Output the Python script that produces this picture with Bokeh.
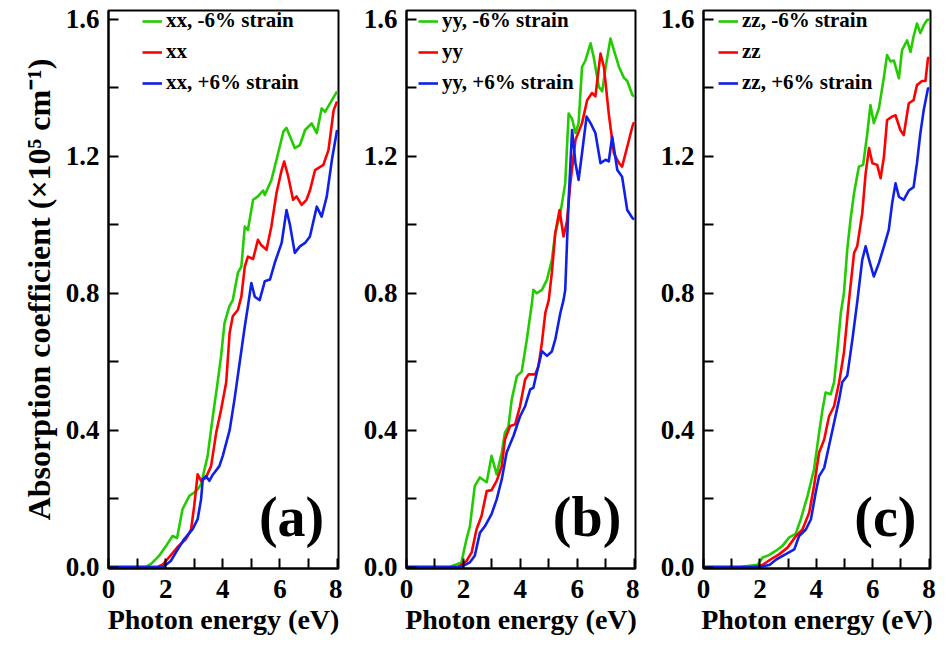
from bokeh.plotting import figure
from bokeh.layouts import row
from bokeh.models import (Range1d, FixedTicker, PrintfTickFormatter, Legend, LegendItem, Label)
from bokeh.embed import file_html
from bokeh.resources import INLINE

# ---------------- data (photon energy in eV, absorption in 1e5 cm^-1) ----------------
a_green_E = [0, 1.3, 1.5, 1.76, 2.0, 2.24, 2.4, 2.59, 2.83, 3.0, 3.1, 3.24, 3.47, 3.65, 3.82, 3.94, 4.06, 4.23, 4.35, 4.53,
             4.65, 4.77, 4.88, 5.06, 5.23, 5.41, 5.47, 5.7, 5.88, 6.12, 6.23, 6.52, 6.7, 6.88, 7.11, 7.29, 7.46, 7.58, 7.82, 8.0]
a_green = [0, 0, 0.01, 0.032, 0.06, 0.091, 0.085, 0.169, 0.208, 0.218, 0.225, 0.242, 0.325, 0.44, 0.54, 0.616, 0.713, 0.762, 0.78, 0.86,
           0.878, 0.995, 0.985, 1.073, 1.083, 1.10, 1.087, 1.13, 1.19, 1.272, 1.283, 1.224, 1.233, 1.277, 1.296, 1.268, 1.34, 1.33, 1.364, 1.39]
a_red_E = [0, 1.7, 1.9, 2.06, 2.41, 2.71, 2.89, 3.0, 3.12, 3.24, 3.4, 3.59, 3.77, 3.94, 4.12, 4.24, 4.35, 4.53, 4.65, 4.77,
           4.88, 5.06, 5.23, 5.35, 5.53, 5.7, 5.88, 6.06, 6.15, 6.29, 6.46, 6.58, 6.76, 6.93, 7.05, 7.23, 7.52, 7.7, 7.88, 8.0]
a_red = [0, 0, 0.008, 0.023, 0.058, 0.082, 0.11, 0.179, 0.271, 0.252, 0.26, 0.295, 0.393, 0.46, 0.54, 0.685, 0.733, 0.752, 0.79, 0.878,
         0.907, 0.90, 0.956, 0.94, 0.927, 0.995, 1.093, 1.16, 1.185, 1.141, 1.073, 1.083, 1.058, 1.073, 1.10, 1.16, 1.175, 1.219, 1.335, 1.36]
a_blue_E = [0, 1.9, 2.18, 2.36, 2.65, 2.94, 3.12, 3.24, 3.3, 3.41, 3.53, 3.65, 3.88, 4.0, 4.24, 4.41, 4.59, 4.77, 4.88, 5.0,
            5.12, 5.29, 5.47, 5.65, 5.82, 6.06, 6.23, 6.35, 6.52, 6.7, 6.88, 7.05, 7.29, 7.46, 7.64, 7.82, 8.0]
a_blue = [0, 0, 0.018, 0.043, 0.082, 0.11, 0.14, 0.198, 0.257, 0.266, 0.252, 0.27, 0.295, 0.325, 0.40, 0.49, 0.597, 0.703, 0.762, 0.83,
          0.79, 0.78, 0.835, 0.84, 0.889, 0.947, 1.043, 1.0, 0.918, 0.937, 0.947, 0.966, 1.053, 1.024, 1.083, 1.19, 1.277]

b_green_E = [0, 1.5, 1.93, 2.11, 2.23, 2.4, 2.58, 2.82, 2.99, 3.17, 3.35, 3.46, 3.58, 3.7, 3.88, 4.05, 4.23, 4.41, 4.46, 4.58,
             4.76, 4.94, 5.11, 5.23, 5.41, 5.58, 5.7, 5.82, 5.94, 6.05, 6.17, 6.29, 6.47, 6.58, 6.76, 6.88, 7.0, 7.17, 7.29, 7.47,
             7.64, 7.76, 7.94, 8.0]
b_green = [0, 0, 0.014, 0.082, 0.12, 0.237, 0.262, 0.248, 0.325, 0.271, 0.335, 0.393, 0.41, 0.49, 0.558, 0.571, 0.665, 0.772, 0.81, 0.80,
           0.81, 0.84, 0.898, 0.976, 1.034, 1.121, 1.325, 1.31, 1.268, 1.297, 1.461, 1.48, 1.53, 1.49, 1.403, 1.39, 1.46, 1.544, 1.51, 1.461,
           1.43, 1.42, 1.379, 1.375]
b_red_E = [0, 1.8, 2.11, 2.29, 2.46, 2.64, 2.82, 2.99, 3.17, 3.35, 3.46, 3.64, 3.82, 3.99, 4.17, 4.29, 4.52, 4.64, 4.76, 4.88,
           5.0, 5.11, 5.23, 5.38, 5.52, 5.64, 5.76, 5.94, 6.17, 6.35, 6.52, 6.64, 6.82, 6.94, 7.11, 7.29, 7.47, 7.58, 7.76, 7.94, 8.0]
b_red = [0, 0, 0.018, 0.043, 0.11, 0.15, 0.222, 0.225, 0.252, 0.295, 0.373, 0.412, 0.417, 0.47, 0.548, 0.563, 0.563, 0.587, 0.656, 0.743,
         0.78, 0.86, 0.976, 1.043, 0.966, 1.01, 1.121, 1.248, 1.297, 1.364, 1.385, 1.375, 1.50, 1.461, 1.325, 1.209, 1.18, 1.17, 1.228, 1.287, 1.30]
b_blue_E = [0, 1.9, 2.23, 2.4, 2.58, 2.76, 2.99, 3.17, 3.35, 3.52, 3.76, 3.99, 4.17, 4.35, 4.46, 4.58, 4.76, 4.94, 5.11, 5.23,
            5.41, 5.52, 5.58, 5.7, 5.82, 5.94, 6.05, 6.17, 6.33, 6.47, 6.64, 6.82, 7.0, 7.11, 7.23, 7.41, 7.58, 7.76, 7.94, 8.0]
b_blue = [0, 0, 0.014, 0.033, 0.10, 0.12, 0.155, 0.198, 0.257, 0.335, 0.383, 0.44, 0.47, 0.519, 0.524, 0.568, 0.631, 0.617, 0.63, 0.665,
          0.743, 0.78, 0.81, 1.073, 1.277, 1.18, 1.131, 1.209, 1.316, 1.297, 1.268, 1.18, 1.19, 1.185, 1.258, 1.16, 1.14, 1.043, 1.02, 1.015]

c_green_E = [0, 1.27, 1.92, 2.1, 2.32, 2.57, 2.8, 3.04, 3.27, 3.45, 3.69, 3.92, 4.10, 4.22, 4.33, 4.51, 4.63, 4.75, 4.87, 4.98,
             5.1, 5.22, 5.34, 5.51, 5.66, 5.81, 5.92, 6.04, 6.22, 6.40, 6.51, 6.63, 6.75, 6.93, 7.04, 7.22, 7.34, 7.45, 7.57, 7.69,
             7.81, 7.93, 8.0]
c_green = [0, 0, 0.007, 0.028, 0.035, 0.048, 0.062, 0.087, 0.097, 0.14, 0.208, 0.286, 0.393, 0.46, 0.51, 0.505, 0.54, 0.636, 0.743, 0.80,
           0.93, 1.02, 1.093, 1.17, 1.175, 1.268, 1.35, 1.297, 1.34, 1.432, 1.496, 1.477, 1.48, 1.428, 1.51, 1.539, 1.505, 1.55, 1.588, 1.56,
           1.583, 1.598, 1.60]
c_red_E = [0, 1.8, 2.1, 2.39, 2.69, 2.98, 3.28, 3.51, 3.75, 3.92, 4.10, 4.28, 4.45, 4.63, 4.81, 4.98, 5.16, 5.34, 5.45, 5.63,
           5.75, 5.87, 5.99, 6.16, 6.28, 6.40, 6.51, 6.69, 6.81, 6.98, 7.10, 7.28, 7.45, 7.57, 7.75, 7.87, 7.96, 8.0]
c_red = [0, 0, 0.007, 0.023, 0.038, 0.057, 0.091, 0.11, 0.16, 0.237, 0.335, 0.373, 0.44, 0.47, 0.54, 0.626, 0.78, 0.918, 0.937, 1.034,
         1.15, 1.224, 1.18, 1.175, 1.136, 1.2, 1.306, 1.316, 1.32, 1.277, 1.262, 1.355, 1.364, 1.408, 1.42, 1.42, 1.486, 1.49]
c_blue_E = [0, 2.0, 2.35, 2.59, 2.92, 3.22, 3.39, 3.63, 3.81, 3.98, 4.10, 4.28, 4.45, 4.63, 4.81, 4.92, 5.1, 5.28, 5.46, 5.63,
            5.75, 5.87, 6.04, 6.22, 6.40, 6.57, 6.69, 6.81, 6.93, 7.10, 7.28, 7.45, 7.57, 7.69, 7.81, 7.96, 8.0]
c_blue = [0, 0, 0.007, 0.023, 0.038, 0.052, 0.091, 0.11, 0.14, 0.218, 0.266, 0.29, 0.354, 0.422, 0.49, 0.54, 0.56, 0.665, 0.78, 0.898,
          0.937, 0.898, 0.849, 0.888, 0.937, 0.985, 1.063, 1.121, 1.082, 1.073, 1.10, 1.11, 1.18, 1.267, 1.335, 1.398, 1.40]

x_ticks = [0, 2, 4, 6, 8]
x_minor = [1, 3, 5, 7]
y_ticks = [0.0, 0.4, 0.8, 1.2, 1.6]
y_minor = [0.2, 0.6, 1.0, 1.4]

components = ["xx", "yy", "zz"]
panel_tags = ["(a)", "(b)", "(c)"]
series_names = ["{c}, -6% strain", "{c}", "{c}, +6% strain"]
colors = ["#22cc00", "#ff0000", "#1020e8"]

panels = [
    [(a_green_E, a_green), (a_red_E, a_red), (a_blue_E, a_blue)],
    [(b_green_E, b_green), (b_red_E, b_red), (b_blue_E, b_blue)],
    [(c_green_E, c_green), (c_red_E, c_red), (c_blue_E, c_blue)],
]

FONT = "Liberation Serif"

# layout settings per panel: (min_border_left, frame_width, min_border_right, legend x offset)
layouts = [(108, 230, 4, 34), (64, 229, 4, 12), (64, 227, 8, 15)]
FRAME_H = 558

figs = []
for i in range(3):
    bl, fw, br, lx = layouts[i]
    p = figure(frame_width=fw, frame_height=FRAME_H, output_backend="svg", toolbar_location=None,
               x_range=Range1d(0, 8.05), y_range=Range1d(-0.004, 1.626),
               min_border_left=bl, min_border_right=br, min_border_top=10, min_border_bottom=78)
    p.xgrid.visible = False
    p.ygrid.visible = False
    p.outline_line_color = "black"
    p.outline_line_width = 2
    p.background_fill_color = "white"
    p.border_fill_color = "white"

    items = []
    for (xs, ys), col, nm in zip(panels[i], colors, series_names):
        r = p.line(xs, ys, line_color=col, line_width=2.6, line_join="round")
        items.append(LegendItem(label=nm.format(c=components[i]), renderers=[r]))

    for ax in (p.xaxis[0], p.yaxis[0]):
        ax.axis_line_color = "black"
        ax.axis_line_width = 2
        ax.major_tick_in = 10
        ax.major_tick_out = 0
        ax.minor_tick_in = 10
        ax.minor_tick_out = 0
        ax.major_tick_line_width = 2
        ax.minor_tick_line_width = 2
        ax.major_label_text_font = FONT
        ax.major_label_text_font_style = "bold"
        ax.major_label_text_font_size = "27px"
        ax.major_label_text_color = "black"
        ax.axis_label_text_font = FONT
        ax.axis_label_text_font_style = "bold"
        ax.axis_label_text_color = "black"

    p.xaxis.ticker = FixedTicker(ticks=x_ticks, minor_ticks=x_minor)
    p.yaxis.ticker = FixedTicker(ticks=y_ticks, minor_ticks=y_minor)
    p.yaxis.formatter = PrintfTickFormatter(format="%.1f")
    p.xaxis.major_label_standoff = 11
    p.yaxis.major_label_standoff = 9
    p.xaxis.axis_label = "Photon energy (eV)"
    p.xaxis.axis_label_text_font_size = "28px"
    p.xaxis.axis_label_standoff = 3
    if i == 0:
        p.yaxis.axis_label = "Absorption coefficient (\u00d710\u2075 cm\u207b\u00b9)"
        p.yaxis.axis_label_text_font_size = "32px"
        p.yaxis.axis_label_standoff = 6

    legend = Legend(items=items, location=(lx, FRAME_H - 84 - 1))
    legend.border_line_color = None
    legend.background_fill_alpha = 0
    legend.label_text_font = FONT
    legend.label_text_font_style = "bold"
    legend.label_text_font_size = "21px"
    legend.label_text_color = "black"
    legend.glyph_width = 20
    legend.glyph_height = 24
    legend.label_height = 24
    legend.spacing = 6
    legend.padding = 0
    legend.margin = 0
    legend.label_standoff = 4
    p.add_layout(legend, "center")

    tag = Label(x=7.55, y=0.145, text=panel_tags[i], text_align="right", text_baseline="middle",
                text_font=FONT, text_font_style="bold", text_font_size="56px", text_color="black")
    p.add_layout(tag)
    figs.append(p)

layout = row(*figs)
open("out.html", "w").write(file_html(layout, INLINE))
